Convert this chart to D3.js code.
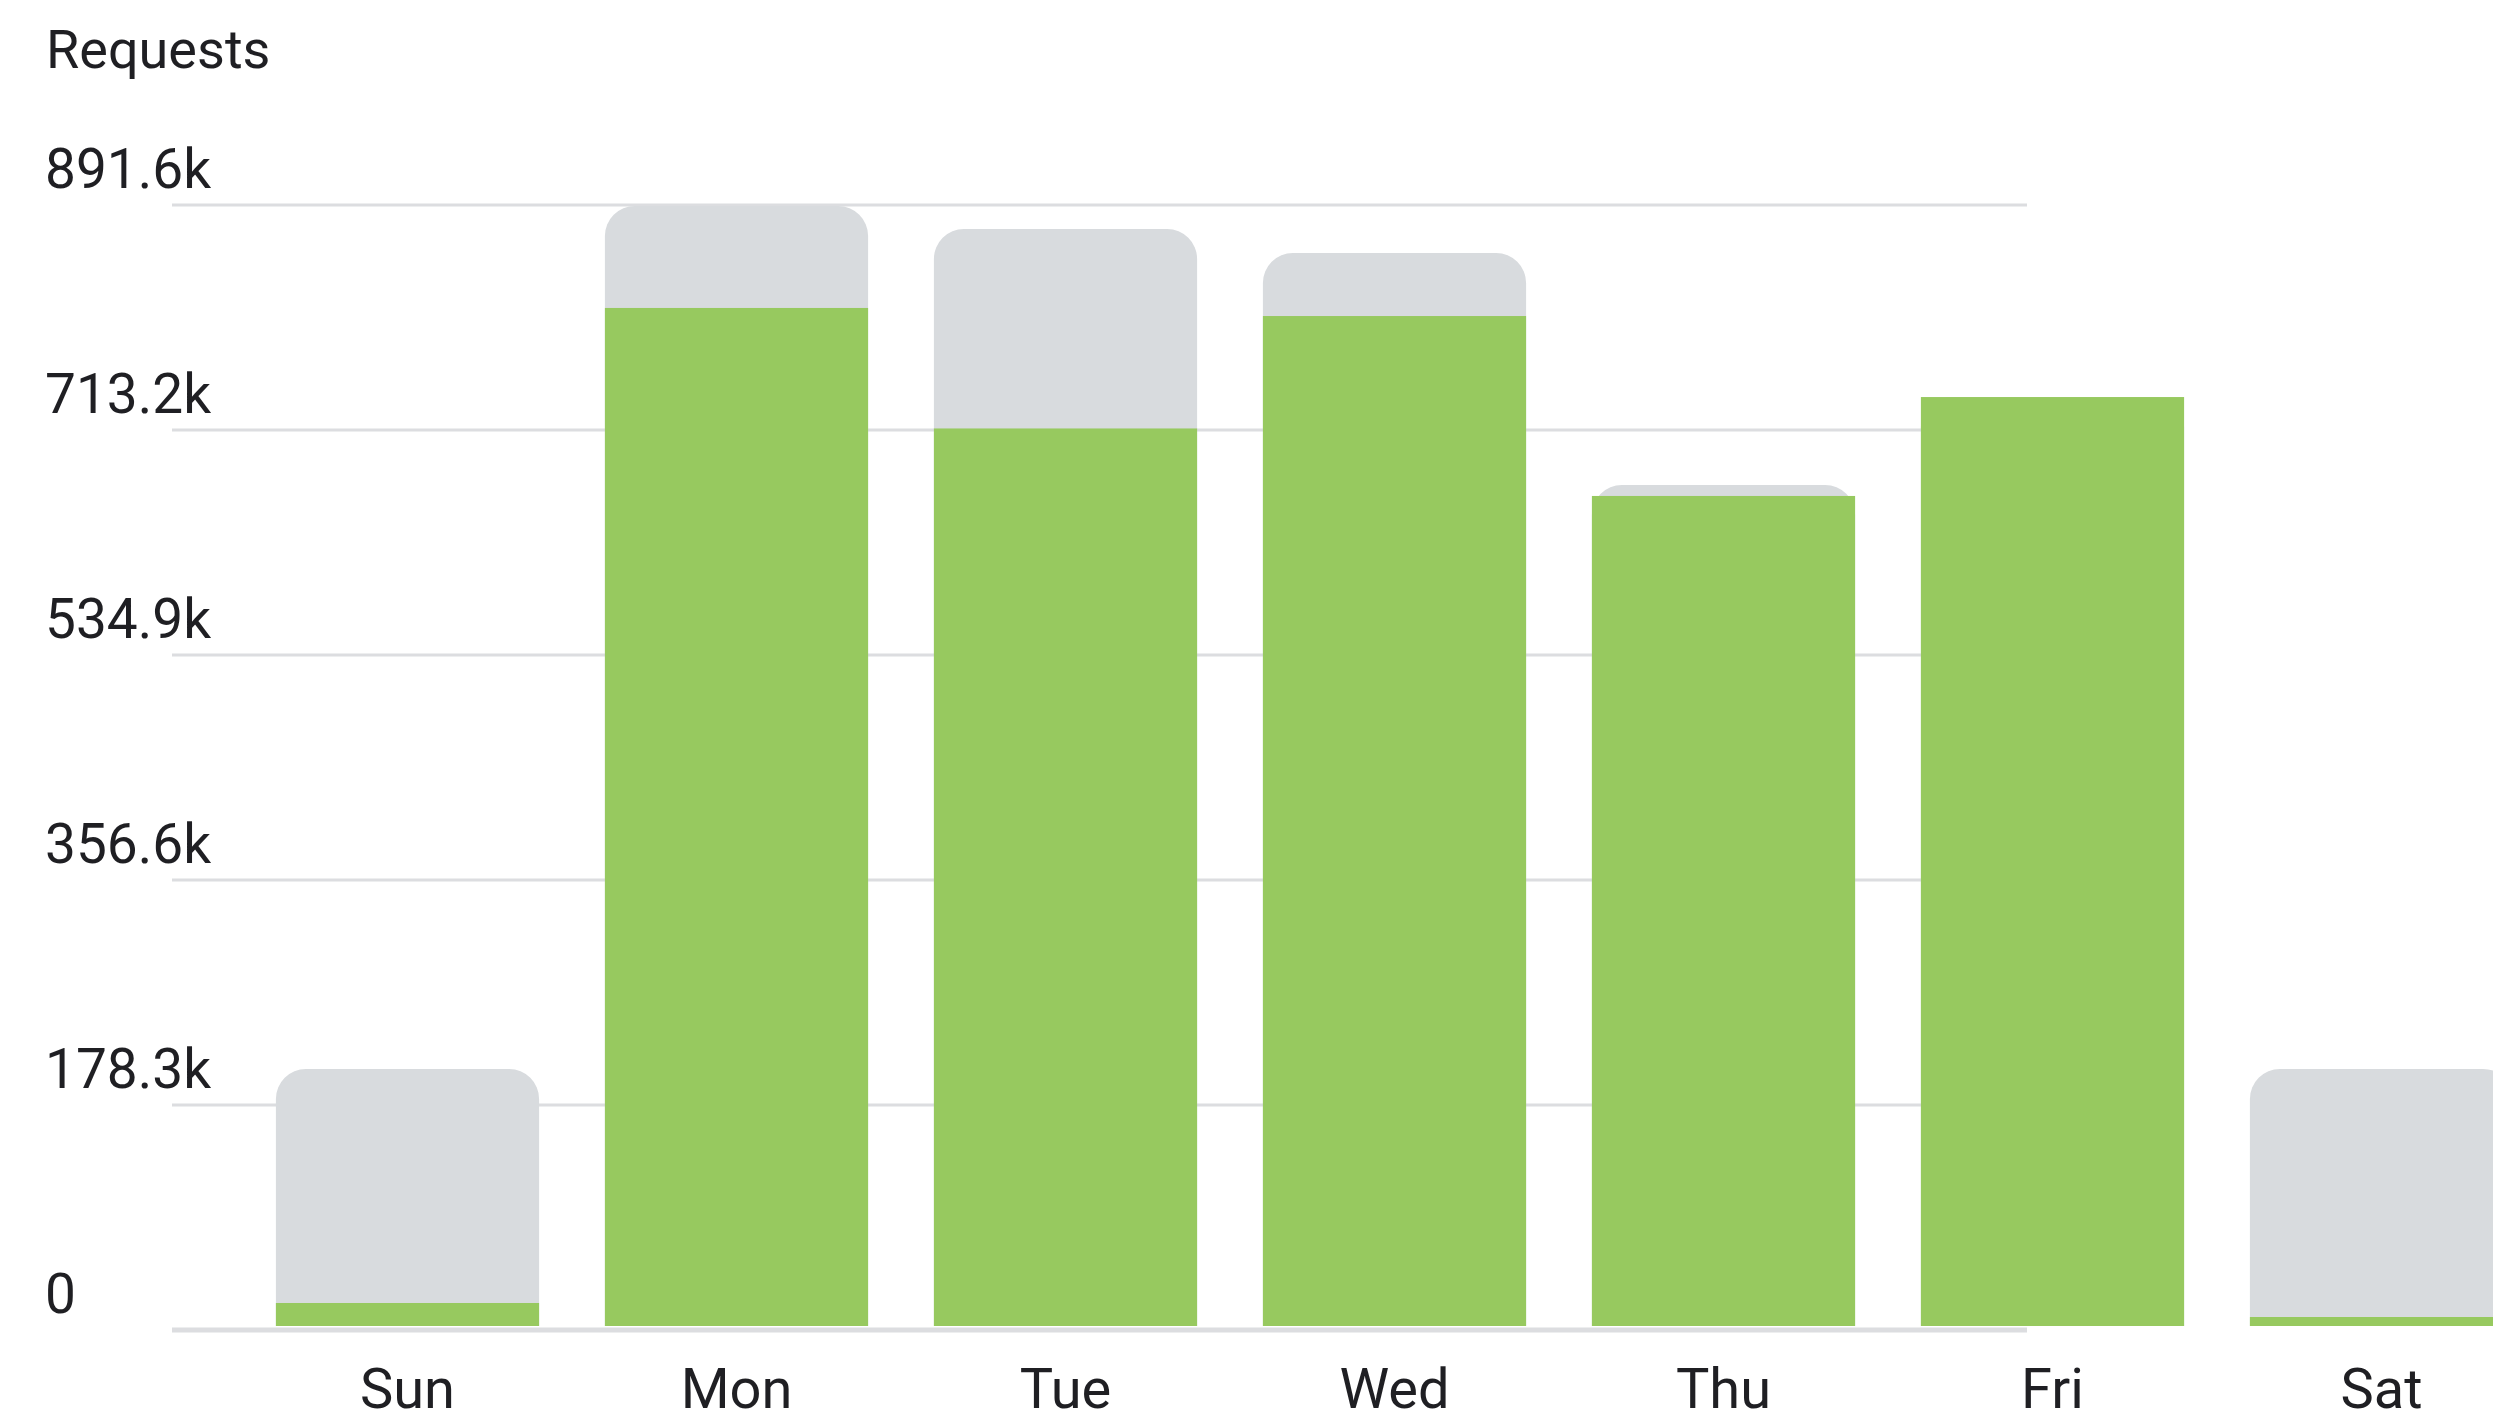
<!DOCTYPE html>
<html>
<head>
<meta charset="utf-8">
<script src="https://cdn.jsdelivr.net/npm/d3@7"></script>
<style>
  html, body { margin: 0; padding: 0; background: #fff; overflow: hidden; }
  text { font-family: Roboto, "Noto Sans", sans-serif; fill: #1f1f23; }
</style>
</head>
<body>
<div id="chart"></div>
<script>
// values in requests
var days = ["Sun", "Mon", "Tue", "Wed", "Thu", "Fri", "Sat"];
var cached = [21400, 810000, 714500, 803600, 661000, 739400, 10300];
var uncached = [185500, 80800, 158100, 50000, 8700, 0, 196600];
var tickValues = [0, 178300, 356600, 534900, 713200, 891600];
var tickLabels = ["0", "178.3k", "356.6k", "534.9k", "713.2k", "891.6k"];

var width = 2493,
    height = 1421,
    gridLeft = 172,
    gridRight = 2027,
    green = "#97c95f",
    grey = "#d8dbde";

var svg = d3.select("#chart")
  .append("svg")
    .attr("width", width)
    .attr("height", height);

var rows = days.map(function (d, i) {
  return { day: d, cached: cached[i], uncached: uncached[i] };
});
var stacked = d3.stack().keys(["cached", "uncached"])(rows);

var x = d3.scaleBand()
    .domain(days)
    .range([243, 2546])
    .paddingInner(0.2)
    .paddingOuter(0.1);

var y = d3.scaleLinear()
    .domain([0, 891600])
    .range([1330, 205]);

var base = y(0) - 4;

// title
svg.append("text")
  .attr("x", 46)
  .attr("y", 68)
  .style("font-size", "54px")
  .text("Requests");

// grid lines + labels
var grid = svg.append("g");
grid.selectAll("line")
  .data(tickValues)
  .enter().append("line")
    .attr("x1", gridLeft)
    .attr("x2", gridRight)
    .attr("y1", function (d) { return y(d); })
    .attr("y2", function (d) { return y(d); })
    .attr("stroke", "#dcdde0")
    .attr("stroke-width", function (d) { return d === 0 ? 5 : 3; });

grid.selectAll("text")
  .data(tickValues)
  .enter().append("text")
    .attr("x", 45)
    .attr("y", function (d) { return y(d) - 17; })
    .style("font-size", "55px")
    .text(function (d, i) { return tickLabels[i]; });

// rounded top only
function topRounded(x0, y0, w, h, r) {
  r = Math.min(r, h, w / 2);
  return "M" + x0 + "," + (y0 + h) +
    "V" + (y0 + r) +
    "A" + r + "," + r + " 0 0 1 " + (x0 + r) + "," + y0 +
    "H" + (x0 + w - r) +
    "A" + r + "," + r + " 0 0 1 " + (x0 + w) + "," + (y0 + r) +
    "V" + (y0 + h) + "Z";
}

var bars = svg.append("g");

// grey = total, drawn behind
bars.selectAll("path")
  .data(stacked[1])
  .enter().append("path")
    .attr("fill", grey)
    .attr("d", function (d) {
      var top = y(d[1]);
      return topRounded(x(d.data.day), top, x.bandwidth(), base - top, 30);
    });

// green = cached part on top
bars.selectAll("rect")
  .data(stacked[0])
  .enter().append("rect")
    .attr("fill", green)
    .attr("x", function (d) { return x(d.data.day); })
    .attr("width", x.bandwidth())
    .attr("y", function (d) { return y(d[1]); })
    .attr("height", function (d) { return base - y(d[1]); });

// day labels
var xAxis = svg.append("g")
  .attr("transform", "translate(0," + 1408 + ")")
  .call(d3.axisBottom(x).tickSize(0).tickPadding(0));
xAxis.select(".domain").remove();
xAxis.selectAll("text")
  .attr("dy", 0)
  .attr("y", 0)
  .style("font-size", "56px")
  .style("font-family", "Roboto, 'Noto Sans', sans-serif")
  .attr("fill", "#1f1f23");
</script>
</body>
</html>
